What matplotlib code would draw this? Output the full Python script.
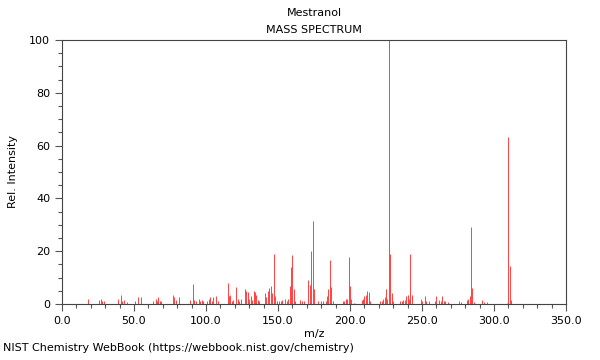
"""
Espectro de masas del Mestranol (NIST WebBook), redibujado con matplotlib.
"""
import matplotlib
matplotlib.use("Agg")
import matplotlib.pyplot as plt
from matplotlib.ticker import MultipleLocator, FormatStrFormatter

COMPUESTO = "Mestranol"

# m/z y su intensidad relativa (%)
masas = [18, 26, 27, 28, 29, 39, 41, 42, 43, 45,
         51, 53, 55, 63, 65, 66, 67, 68, 69,
         77, 78, 79, 81, 89, 91, 92, 93, 95, 96, 97, 98,
         101, 102, 103, 104, 105, 107, 108,
         115, 116, 117, 118, 119, 121, 122, 123, 124,
         127, 128, 129, 130, 131, 132, 133, 134, 135, 136, 137,
         141, 142, 143, 144, 145, 146, 147, 148, 149, 151, 152, 153, 155, 156, 157,
         158, 159, 160, 161, 162, 165, 167, 168,
         171, 172, 173, 174, 175,
         178, 180, 181, 183, 184, 185, 186, 187, 188,
         195, 196, 197, 198, 199, 200, 201, 203,
         208, 209, 210, 211, 212, 213, 214,
         221, 222, 223, 224, 225, 226, 227, 228, 229, 230,
         235, 236, 237, 238, 239, 240, 241, 242, 243,
         249, 250, 252, 253, 255, 259, 260, 262, 263, 264, 265, 266, 268,
         276, 277, 281, 282, 283, 284, 285, 286,
         292, 293, 295, 309, 310, 311, 312]
intensidades = [1.9, 1.5, 2.0, 1.0, 1.0, 2.0, 3.5, 1.0, 1.5, 0.8,
                1.2, 2.5, 2.5, 1.0, 1.8, 1.0, 2.5, 1.2, 1.0,
                3.5, 2.5, 1.5, 2.5, 1.5, 7.5, 1.5, 1.0, 2.0, 1.0, 1.5, 1.0,
                1.0, 2.0, 2.5, 1.0, 2.5, 3.0, 1.0,
                8.0, 3.0, 3.5, 1.0, 1.5, 6.5, 2.0, 1.0, 2.0,
                5.5, 5.0, 4.5, 2.0, 3.0, 1.5, 5.0, 4.5, 3.5, 1.5, 1.0,
                4.0, 2.5, 5.0, 6.0, 7.0, 4.0, 19.0, 3.0, 1.0, 1.0, 1.0, 1.5, 2.0, 1.0, 2.0,
                7.0, 14.0, 18.5, 5.7, 1.0, 1.5, 1.0, 1.0,
                9.0, 7.3, 20.0, 31.5, 5.7,
                1.0, 1.0, 1.0, 1.0, 3.0, 5.5, 16.8, 6.5, 1.0,
                1.0, 1.0, 2.0, 2.0, 17.8, 7.0, 2.0, 0.5,
                1.5, 2.0, 3.0, 3.5, 5.0, 4.5, 1.2,
                1.0, 1.0, 2.0, 2.5, 5.5, 2.0, 100.0, 19.0, 4.0, 1.0,
                1.0, 1.2, 1.5, 1.5, 3.0, 3.5, 2.0, 19.0, 3.5,
                1.8, 1.0, 3.0, 1.2, 1.2, 1.0, 3.2, 1.5, 1.2, 3.2, 1.2, 1.2, 0.6,
                1.0, 0.6, 1.5, 2.0, 3.0, 29.3, 5.9, 0.6,
                1.5, 0.8, 0.6, 0.5, 63.4, 14.5, 1.5]

fig = plt.figure(figsize=(6, 3.6), dpi=100)
ax = fig.add_axes([0.1033, 0.1556, 0.84, 0.7333])

ax.vlines(masas, 0, intensidades, color="#ff2020", linewidth=0.7, alpha=0.85)

ax.set_xlim(0, 350)
ax.set_ylim(0, 100)
ax.xaxis.set_major_locator(MultipleLocator(50))
ax.xaxis.set_minor_locator(MultipleLocator(10))
ax.xaxis.set_major_formatter(FormatStrFormatter("%.1f"))
ax.yaxis.set_major_locator(MultipleLocator(20))
ax.yaxis.set_minor_locator(MultipleLocator(5))
ax.tick_params(which="major", length=5, width=0.8, color="#555555", labelsize=8)
ax.tick_params(which="minor", length=3, width=0.8, color="#555555")
for lado in ax.spines.values():
    lado.set_color("#444444")
    lado.set_linewidth(0.8)

ax.set_xlabel("m/z", fontsize=8, labelpad=2.5)
ax.set_ylabel("Rel. Intensity", fontsize=8, labelpad=8)

fig.text(0.5233, 0.963, COMPUESTO, ha="center", va="center", fontsize=8)
fig.text(0.5233, 0.916, "MASS SPECTRUM", ha="center", va="center", fontsize=8)
fig.text(0.005, 0.02, "NIST Chemistry WebBook (https://webbook.nist.gov/chemistry)",
         ha="left", va="bottom", fontsize=8)

fig.savefig("out.png", dpi=100)
